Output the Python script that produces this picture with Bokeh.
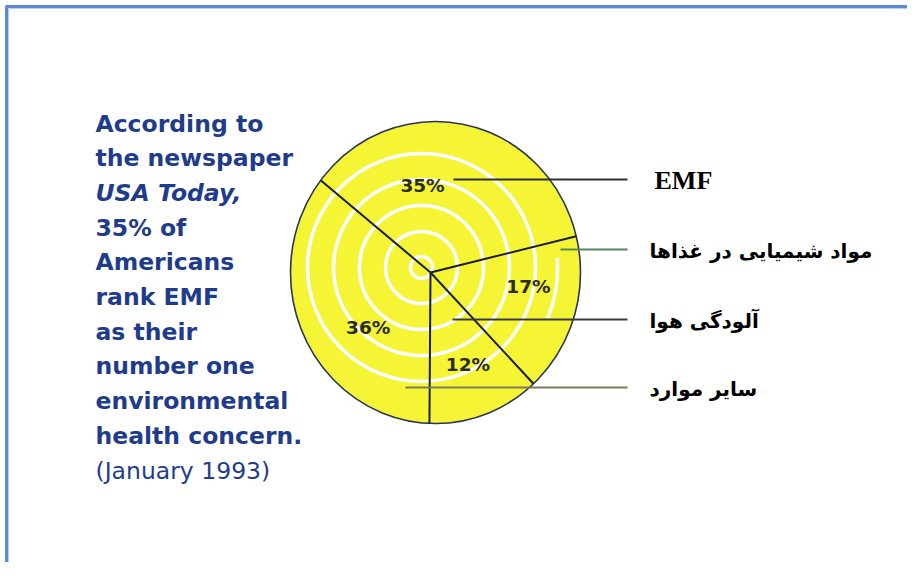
import numpy as np
from bokeh.plotting import figure
from bokeh.models import Range1d
from bokeh.core.properties import value
from bokeh.embed import file_html
from bokeh.resources import INLINE

# ---------------- data ----------------
categories = ["EMF", "مواد شیمیایی در غذاها", "آلودگی هوا", "سایر موارد"]
percents = [35, 17, 12, 36]
pct_labels = ["35%", "17%", "12%", "36%"]
# counter-clockwise order of slices in the pie, starting at START_DEG
slice_order = [0, 3, 2, 1]
START_DEG = 14.0

note_lines = ["According to", "the newspaper", "USA Today,", "35% of", "Americans",
              "rank EMF", "as their", "number one", "environmental",
              "health concern.", "(January 1993)"]
note_styles = ["bold", "bold", "bold italic", "bold", "bold", "bold", "bold",
               "bold", "bold", "bold", "normal"]

# ---------------- layout ----------------
W, H = 907, 562
CX, CY, EW, EH = 435, 272, 290, 302        # pie outline (ellipse)
HX, HY = 430, 272                           # hub where slice borders meet
RING_C = (421, 267)
ring_radii = [11, 36, 62, 88, 114]
YELLOW = "#f5f535"
NAVY = "#1f3c8c"

p = figure(width=W, height=H, output_backend="svg", toolbar_location=None,
           x_range=Range1d(0, W), y_range=Range1d(H, 0),
           x_axis_type=None, y_axis_type=None, min_border=0,
           outline_line_color=None, background_fill_color="white",
           border_fill_color="white")
p.grid.visible = False

# frame border (top + left)
p.segment(x0=[5, 6], y0=[6, 6], x1=[W, 6], y1=[6, H],
          line_color="#5a8ad6", line_width=3)
p.segment(x0=[8, 8], y0=[8, 8], x1=[W, 8], y1=[8, H],
          line_color="#b8cff0", line_width=1)

# pie body
p.ellipse(x=[CX], y=[CY], width=[EW], height=[EH], fill_color=YELLOW,
          line_color="#2b3554", line_width=1.6)

# white concentric rings
p.ellipse(x=[RING_C[0]] * len(ring_radii), y=[RING_C[1]] * len(ring_radii),
          width=[2 * r for r in ring_radii], height=[2 * r for r in ring_radii],
          fill_color=None, line_color="white", line_width=3.5)
arc_t = np.radians(np.linspace(-22, 4, 30))
p.line(RING_C[0] + 136 * np.cos(arc_t), RING_C[1] - 136 * np.sin(arc_t),
       line_color="white", line_width=3.5)

# slice boundaries
def ray_end(deg):
    a = np.radians(deg)
    dx, dy = np.cos(a), -np.sin(a)
    A, B = EW / 2, EH / 2
    px, py = HX - CX, HY - CY
    qa = (dx / A) ** 2 + (dy / B) ** 2
    qb = 2 * (px * dx / A ** 2 + py * dy / B ** 2)
    qc = (px / A) ** 2 + (py / B) ** 2 - 1
    t = (-qb + np.sqrt(qb * qb - 4 * qa * qc)) / (2 * qa)
    return HX + t * dx, HY + t * dy

total = float(sum(percents))
bounds = [START_DEG]
for i in slice_order:
    bounds.append(bounds[-1] + 360.0 * percents[i] / total)
ends = [ray_end(b) for b in bounds[:-1]]
p.segment(x0=[HX] * len(ends), y0=[HY] * len(ends),
          x1=[e[0] for e in ends], y1=[e[1] for e in ends],
          line_color="#1a1d2e", line_width=2)

# percentage labels (position: mid-angle of slice, own radius + nudge)
label_radius = {0: 89, 3: 83, 2: 98, 1: 98}
label_shift = {0: (-28, 0), 3: (13, 20), 2: (2, 1), 1: (4, -14)}
lx, ly, lt = [], [], []
for k, i in enumerate(slice_order):
    mid = np.radians((bounds[k] + bounds[k + 1]) / 2)
    r = label_radius[i]
    lx.append(HX + r * np.cos(mid) + label_shift[i][0])
    ly.append(HY - r * np.sin(mid) + label_shift[i][1])
    lt.append(pct_labels[i])
p.text(x=lx, y=ly, text=lt, text_font=value("DejaVu Sans"), text_font_style="bold",
       text_font_size="18.5px", text_color="#2b2b1e", text_align="center",
       text_baseline="middle")

# leader lines and category labels
leader_y = [179, 249, 319, 387]
leader_x0 = [453, 560, 452, 405]
leader_colors = ["#2e2e2e", "#55875a", "#3a3a3a", "#7a7a5e"]
p.segment(x0=leader_x0, y0=leader_y, x1=[627] * 4, y1=leader_y,
          line_color=leader_colors, line_width=2)
p.text(x=[654], y=[leader_y[0] + 1], text=[categories[0]],
       text_font=value("Liberation Serif"), text_font_style="bold",
       text_font_size="26px", text_color="black", text_align="left",
       text_baseline="middle")
p.text(x=[649] * 3, y=[y + 1 for y in leader_y[1:]], text=categories[1:],
       text_font=value("DejaVu Sans"), text_font_style="bold",
       text_font_size="20px", text_color="black", text_align="left",
       text_baseline="middle")

# left-hand note
for style in ["bold", "bold italic", "normal"]:
    xs, ys, ts = [], [], []
    for i, (t, s) in enumerate(zip(note_lines, note_styles)):
        if s == style:
            xs.append(95)
            ys.append(123 + 34.7 * i)
            ts.append(t)
    p.text(x=xs, y=ys, text=ts, text_font=value("DejaVu Sans"),
           text_font_style=style, text_font_size="23.5px", text_color=NAVY,
           text_align="left", text_baseline="middle")

open("out.html", "w").write(file_html(p, INLINE))
